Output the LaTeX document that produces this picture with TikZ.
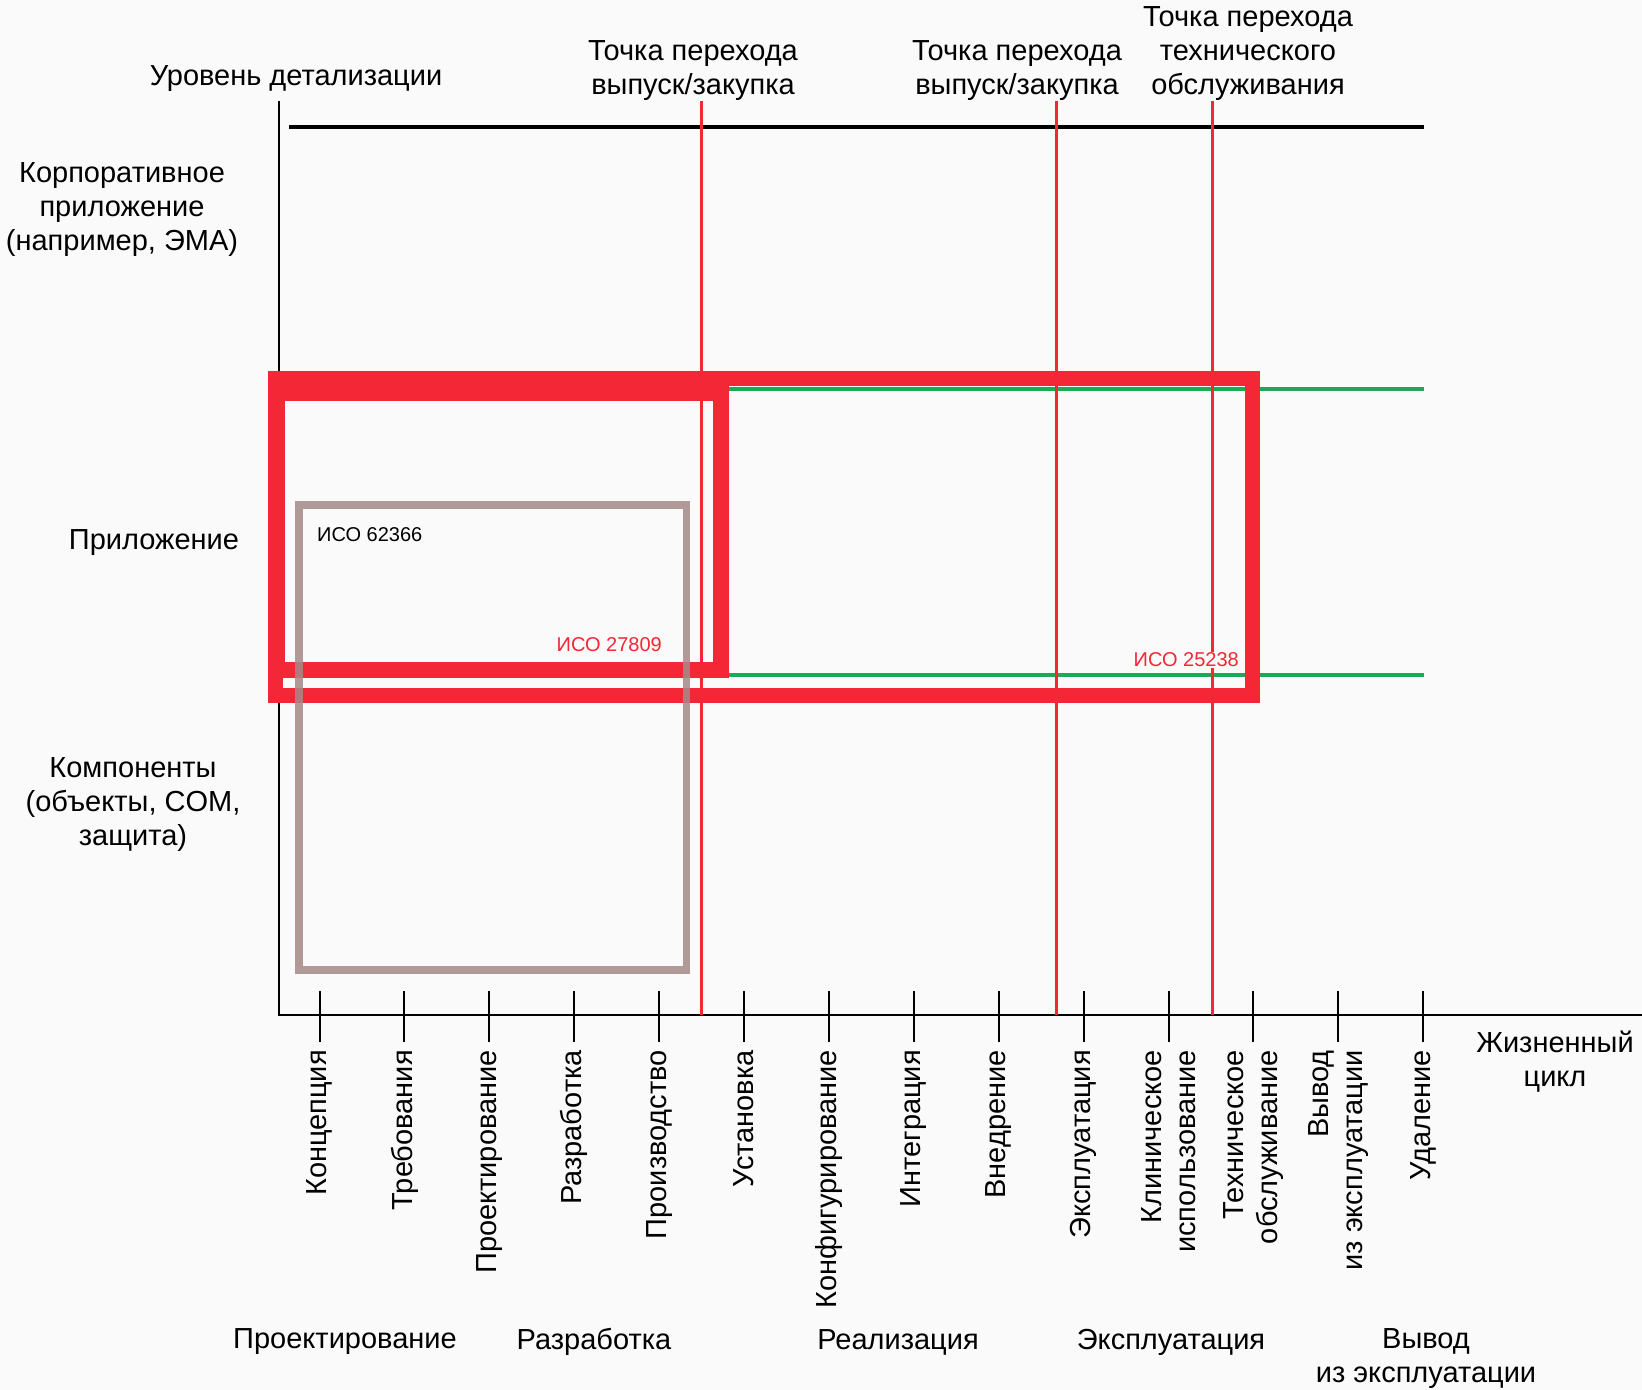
\documentclass[tikz,border=0pt]{standalone}
\usepackage{fontspec}
\setmainfont{Liberation Sans}
\usetikzlibrary{positioning}
\definecolor{isoRed}{HTML}{F32735}
\definecolor{isoGreen}{HTML}{1FA85C}
\definecolor{isoGray}{HTML}{A48A88}
\definecolor{pageBg}{HTML}{FAFAFA}
\def\tickx{319.5}
\def\tickpitch{84.9}
\def\axisy{1015}

\begin{document}
\begin{tikzpicture}[
  x=1pt, y=-1pt,
  font=\fontsize{29}{34}\selectfont,
  lbl/.style={align=center, inner sep=0pt, yshift=-4pt},
  stage/.style={rotate=90, anchor=east, align=right, inner sep=0pt},
  iso/.style={font=\fontsize{20}{24}\selectfont, inner sep=1pt},
  axis/.style={black, line width=2pt},
  gate/.style={isoRed, line width=3pt},
  band/.style={isoGreen, line width=3.5pt},
]

\fill[pageBg] (0,0) rectangle (1642,1390);
\useasboundingbox (0,0) rectangle (1642,1390);

% =====================================================================
% AXES
% =====================================================================
\coordinate (origin) at (279,\axisy);
\coordinate (ytop)   at (279,101);
\coordinate (xend)   at (1642,\axisy);
\coordinate (capL)   at (289,127);
\coordinate (capR)   at (1424,127);
\draw[axis] (ytop) -- (origin) -- (xend);
\draw[black, line width=3.5pt] (capL) -- (capR);

\node[lbl] (ylabel) at (296,75) {Уровень детализации};
\node[lbl] (xlabel) at (1555,1058) {Жизненный\\цикл};

% level labels
\node[lbl] (lvEnt)  at (122,206) {Корпоративное\\приложение\\(например, ЭМА)};
\node[lbl] (lvApp)  at (154,539) {Приложение};
\node[lbl] (lvComp) at (133,801) {Компоненты\\(объекты, COM,\\защита)};

% =====================================================================
% LIFE CYCLE STAGES
% =====================================================================
\foreach \st [count=\i from 0] in {Концепция, Требования, Проектирование, Разработка,
    Производство, Установка, Конфигурирование, Интеграция, Внедрение, Эксплуатация,
    {Клиническое\\использование}, {Техническое\\обслуживание},
    {Вывод\\из эксплуатации}, Удаление}{
  \draw[axis] ({\tickx+\i*\tickpitch},991) -- ({\tickx+\i*\tickpitch},1042);
  \node[stage] (st\i) at ({\tickx+\i*\tickpitch},1050) {\st};
}

% phases
\node[lbl] (phDesign) at (345,1338)  {Проектирование};
\node[lbl] (phDev)    at (594,1338)  {Разработка};
\node[lbl] (phImpl)   at (898,1338)  {Реализация};
\node[lbl] (phOps)    at (1171,1338) {Эксплуатация};
\node[lbl] (phRet)    at (1426,1355) {Вывод\\из эксплуатации};

% =====================================================================
% STANDARDS
% =====================================================================
\draw[band] (729,389) -- (1424,389);
\draw[band] (729,675) -- (1424,675);

\draw[isoRed, line width=15pt] (275,378.5) rectangle (1252.5,695.5);
\draw[isoRed, line width=16pt] (277,393) rectangle (721,670);
\draw[isoGray, line width=7.5pt, draw opacity=0.85] (299,505) rectangle (686.5,970);

% transition points
\foreach \gx/\gn in {701/a, 1056/b, 1212/c}{
  \coordinate (gt\gn) at (\gx,101);
  \coordinate (gb\gn) at (\gx,\axisy);
  \draw[gate] (gt\gn) -- (gb\gn);
}
\node[lbl] (gateA) at (693,67)  {Точка перехода\\выпуск/закупка};
\node[lbl] (gateB) at (1017,67) {Точка перехода\\выпуск/закупка};
\node[lbl] (gateC) at (1248,50) {Точка перехода\\технического\\обслуживания};

\node[iso, anchor=west]                (iso62366) at (316,535) {ИСО 62366};
\node[iso, text=isoRed, anchor=east]   (iso27809) at (663,645) {ИСО 27809};
\node[iso, text=isoRed, fill=pageBg, anchor=east] (iso25238) at (1240,660) {ИСО 25238};

\end{tikzpicture}
\end{document}
